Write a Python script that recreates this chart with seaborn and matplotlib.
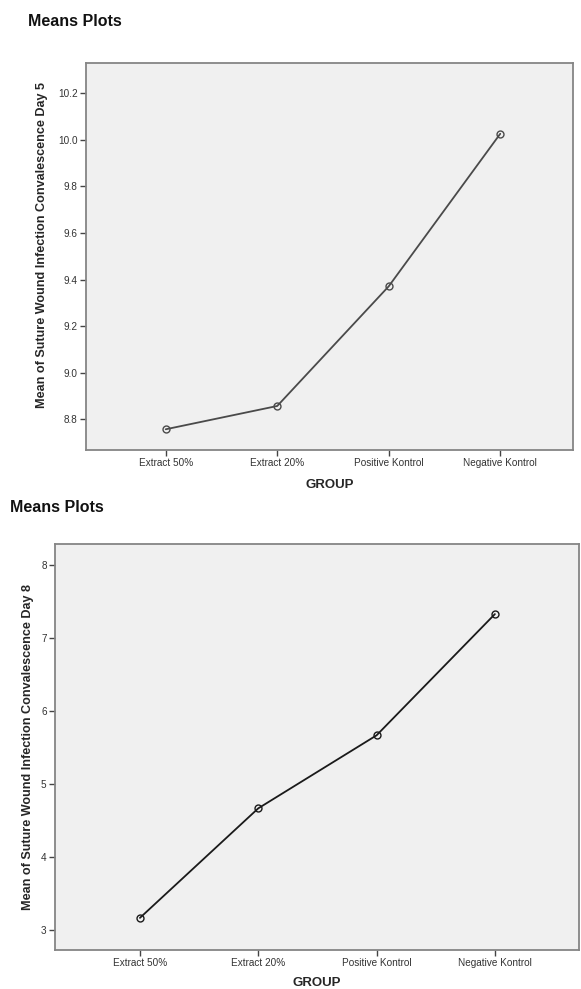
import numpy as np
import pandas as pd
import matplotlib
matplotlib.use("Agg")
import matplotlib.pyplot as plt
import seaborn as sns

GROUPS = ["Extract 50%", "Extract 20%", "Positive Kontrol", "Negative Kontrol"]
DAY5_MEANS = [8.757, 8.857, 9.371, 10.026]
DAY8_MEANS = [3.17, 4.67, 5.67, 7.33]

DAY5_TICKS = [8.8, 9.0, 9.2, 9.4, 9.6, 9.8, 10.0, 10.2]
DAY8_TICKS = [3, 4, 5, 6, 7, 8]

sns.set_theme(style="white")
plt.rcParams["font.family"] = ["Liberation Sans", "DejaVu Sans"]

BG = "#f0f0f0"
FRAME = "#858585"

fig = plt.figure(figsize=(5.81, 9.89), dpi=100)


def means_panel(rect, values, ticks, ylim, xlim, ylabel, line_color, tick_fmt,
                ylab_x, ylab_y, xlab_pad):
    ax = fig.add_axes(rect)
    df = pd.DataFrame({"group": GROUPS, "mean": values})
    sns.pointplot(
        data=df, x="group", y="mean", order=GROUPS, ax=ax,
        errorbar=None, color=line_color, markers="o", linestyles="-",
        markersize=5, linewidth=1.3, markerfacecolor="none",
        markeredgewidth=1.0, markeredgecolor=line_color,
    )
    ax.set_facecolor(BG)
    ax.set_xlim(*xlim)
    ax.set_ylim(*ylim)
    ax.set_yticks(ticks)
    ax.set_yticklabels([tick_fmt.format(t) for t in ticks])
    ax.tick_params(axis="both", which="major", length=4, width=1.0,
                   color="#444444", labelsize=7.2, labelcolor="#333333",
                   direction="out", left=True, bottom=True, pad=2)
    for s in ax.spines.values():
        s.set_color(FRAME)
        s.set_linewidth(1.3)
        s.set_visible(True)
    ax.set_xlabel("GROUP", fontsize=9.5, fontweight="bold", labelpad=xlab_pad)
    ax.set_ylabel("")
    ax.grid(False)
    fig.text(ylab_x, ylab_y, ylabel, rotation=90,
             ha="center", va="center", fontsize=9.1, fontweight="bold")
    return ax


means_panel(
    [86 / 581, 1 - 450 / 989, 486.7 / 581, 387 / 989],
    DAY5_MEANS, DAY5_TICKS, (8.668, 10.33), (-0.715, 3.65),
    "Mean of Suture Wound Infection Convalescence Day 5",
    "#4a4a4a", "{:.1f}", 42 / 581, 1 - 245 / 989, 8,
)
means_panel(
    [55 / 581, 1 - 950 / 989, 524 / 581, 406 / 989],
    DAY8_MEANS, DAY8_TICKS, (2.73, 8.29), (-0.718, 3.711),
    "Mean of Suture Wound Infection Convalescence Day 8",
    "#1a1a1a", "{:d}", 28 / 581, 1 - 747 / 989, 6,
)

fig.text(28 / 581, 1 - 21 / 989, "Means Plots", ha="left", va="center",
         fontsize=11.5, fontweight="bold", color="#111111")
fig.text(10 / 581, 1 - 508 / 989, "Means Plots", ha="left", va="center",
         fontsize=11.5, fontweight="bold", color="#111111")

fig.savefig("out.png", dpi=100)
plt.close(fig)
